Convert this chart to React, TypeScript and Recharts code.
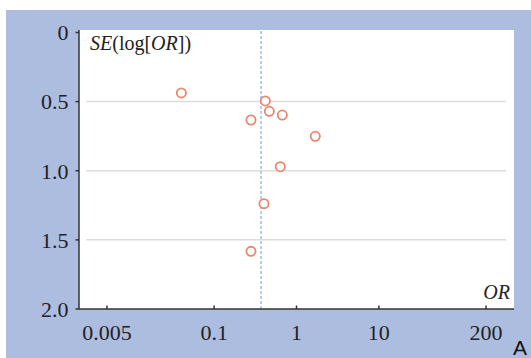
import React from 'react';
import {
  ScatterChart,
  Scatter,
  XAxis,
  YAxis,
  CartesianGrid,
  ReferenceLine,
} from 'recharts';

const oddsRatios = [0.04, 0.28, 0.418, 0.468, 0.672, 1.69, 0.636, 0.403, 0.28];
const standardErrors = [0.437, 0.633, 0.495, 0.57, 0.597, 0.751, 0.971, 1.238, 1.583];
const pooledOR = 0.371;

const xTicks = [0.005, 0.1, 1, 10, 200];
const yTicks = [0, 0.5, 1, 1.5, 2];
const gridValues = [0.5, 1, 1.5];
const xDomain = [1 / 437, 437];
const gridSpan = [0.0028, 350];

const BG = '#adbde0';
const AXIS = '#333';
const POINT = '#e8876d';
const SERIF = '"Liberation Serif", "Times New Roman", serif';

const studies = oddsRatios.map((or, i) => ({ or, se: standardErrors[i] }));

function XTick({ x, y, payload }: any) {
  return (
    <g>
      <line x1={x} x2={x} y1={y - 15} y2={y - 18.5} stroke={AXIS} strokeWidth={1.5} />
      <text x={x} y={y} dy="0.71em" textAnchor="middle" fontFamily={SERIF} fontSize={22} fill="#222">
        {String(payload.value)}
      </text>
    </g>
  );
}

function YLabel({ viewBox }: any) {
  const x = viewBox.x + viewBox.width + 11;
  const y = viewBox.y + 20;
  return (
    <text x={x} y={y} fontFamily={SERIF} fontSize={20} fill="#222">
      <tspan fontStyle="italic">SE</tspan>
      <tspan>(log[</tspan>
      <tspan fontStyle="italic">OR</tspan>
      <tspan>])</tspan>
    </text>
  );
}

function XLabel({ viewBox }: any) {
  return (
    <g>
      <text
        x={viewBox.x + viewBox.width - 4}
        y={viewBox.y - 10}
        textAnchor="end"
        fontFamily={SERIF}
        fontStyle="italic"
        fontSize={20}
        fill="#222"
      >
        OR
      </text>
      <text
        x={viewBox.x + viewBox.width - 1}
        y={viewBox.y + 46}
        fontFamily='"Liberation Sans", Arial, sans-serif'
        fontSize={21}
        fill="#111"
      >
        A
      </text>
    </g>
  );
}

const OpenCircle = ({ cx, cy }: any) => (
  <circle cx={cx} cy={cy} r={4.6} fill="#fff" stroke={POINT} strokeWidth={1.8} />
);

export default function App() {
  return (
    <div style={{ position: 'absolute', left: 6, top: 10 }}>
      <ScatterChart
        width={525}
        height={348}
        margin={{ top: 20, right: 17, bottom: 0, left: 0 }}
        style={{ background: BG }}
      >
        <CartesianGrid fill="#fff" horizontal={false} vertical={false} />
        <XAxis
          type="number"
          dataKey="or"
          scale="log"
          domain={xDomain}
          ticks={xTicks}
          allowDataOverflow
          height={49}
          tickSize={13}
          tickMargin={2}
          tickLine={false}
          tick={<XTick />}
          axisLine={{ stroke: AXIS, strokeWidth: 1.5 }}
          label={<XLabel />}
        />
        <YAxis
          type="number"
          dataKey="se"
          domain={[-0.018, 2]}
          reversed
          ticks={yTicks}
          allowDataOverflow
          width={73}
          tickSize={3.5}
          tickMargin={7}
          tickFormatter={(v: number) => (v === 0 ? '0' : v.toFixed(1))}
          tick={{ fontFamily: SERIF, fontSize: 22, fill: '#222' }}
          tickLine={{ stroke: AXIS, strokeWidth: 1.5 }}
          axisLine={{ stroke: AXIS, strokeWidth: 1.5 }}
          label={<YLabel />}
        />
        {gridValues.map((v) => (
          <ReferenceLine
            key={v}
            segment={[
              { x: gridSpan[0], y: v },
              { x: gridSpan[1], y: v },
            ]}
            stroke="#dcdcdc"
            strokeWidth={1.5}
          />
        ))}
        <ReferenceLine x={pooledOR} stroke="#9dbde6" strokeWidth={1.5} strokeDasharray="3 2" />
        <Scatter data={studies} shape={<OpenCircle />} isAnimationActive={false} />
      </ScatterChart>
    </div>
  );
}
